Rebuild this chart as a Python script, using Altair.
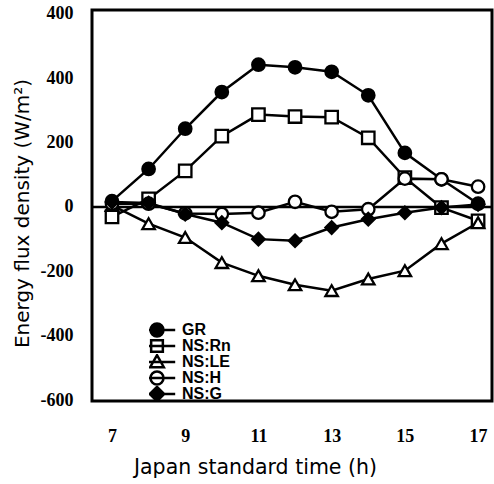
import altair as alt
import pandas as pd

hours = [7, 8, 9, 10, 11, 12, 13, 14, 15, 16, 17]
series_names = ["GR", "NS:Rn", "NS:LE", "NS:H", "NS:G"]
gr = [18, 118, 243, 357, 442, 434, 420, 347, 168, 86, 10]
ns_rn = [-31, 25, 112, 220, 287, 281, 279, 215, 91, -2, -43]
ns_le = [5, -52, -95, -173, -214, -242, -260, -224, -198, -114, -49]
ns_h = [10, 10, -20, -22, -18, 16, -15, -7, 88, 86, 63]
ns_g = [15, 12, -22, -49, -100, -105, -64, -38, -18, -2, 8]
y_ticks = [-600, -400, -200, 0, 200, 400, 600]
x_ticks = [7, 9, 11, 13, 15, 17]

plot_shapes = ["circle", "square", "triangle-up", "circle", "diamond"]
fills = ["black", "white", "white", "white", "black"]
strokes = ["black"] * 5
legend_paths = [
    "M-2.8,0H2.8M-1,0A1,1,0,1,0,1,0A1,1,0,1,0,-1,0Z",
    "M-2.8,0H2.8M-0.9,-0.9H0.9V0.9H-0.9Z",
    "M-2.8,0H2.8M0,-1.05L1.05,0.8H-1.05Z",
    "M-2.8,0H2.8M-1,0A1,1,0,1,0,1,0A1,1,0,1,0,-1,0Z",
    "M-2.8,0H2.8M0,-1.1L1.1,0L0,1.1L-1.1,0Z",
]

rows = []
for name, vals in zip(series_names, [gr, ns_rn, ns_le, ns_h, ns_g]):
    for h, v in zip(hours, vals):
        rows.append({"hour": h, "value": v, "series": name})
df = pd.DataFrame(rows)

x_enc = alt.X(
    "hour:Q",
    scale=alt.Scale(domain=[6.454, 17.38], nice=False, zero=False),
    axis=alt.Axis(
        values=x_ticks, grid=False, ticks=False, domain=False,
        labelFont="Liberation Serif", labelFontSize=18, labelFontWeight="bold",
        labelColor="black", labelPadding=26,
        title="Japan standard time (h)", titleFont="DejaVu Sans",
        titleFontSize=20.5, titleFontWeight="normal", titleColor="black",
        titleX=163, titleY=72, titleBaseline="alphabetic", titleAlign="center",
    ),
)
y_enc = alt.Y(
    "value:Q",
    scale=alt.Scale(domain=[-603, 612], nice=False, zero=False),
    axis=alt.Axis(
        values=y_ticks, grid=False, ticks=False, domain=False,
        labelFont="Liberation Serif", labelFontSize=18, labelFontWeight="bold",
        labelColor="black", labelPadding=19,
        labelExpr="datum.value == 600 ? '400' : toString(datum.value)",
        title="Energy flux  density (W/m\u00b2)", titleFont="DejaVu Sans",
        titleFontSize=20, titleFontWeight="normal", titleColor="black",
        titleAngle=270, titleX=-64, titleY=203, titleBaseline="alphabetic",
        titleAlign="center",
    ),
)

base = alt.Chart(df)

zero = alt.Chart(pd.DataFrame({"value": [0]})).mark_rule(
    color="black", strokeWidth=2.5
).encode(y=alt.Y("value:Q", scale=alt.Scale(domain=[-603, 612], nice=False, zero=False)))

lines = base.mark_line(color="black", strokeWidth=2.5).encode(
    x=x_enc, y=y_enc, detail="series:N"
)

points = base.mark_point(filled=True, stroke="black", strokeWidth=2.3, size=155, opacity=1).encode(
    x=x_enc, y=y_enc,
    shape=alt.Shape("series:N", scale=alt.Scale(domain=series_names, range=plot_shapes), legend=None),
    fill=alt.Fill("series:N", scale=alt.Scale(domain=series_names, range=fills), legend=None),
)

def make_legend():
    return alt.Legend(title=None, orient="none", legendX=57, legendY=312,
                      symbolSize=169, symbolStrokeWidth=2.5,
                      labelFont="Liberation Sans", labelFontSize=16,
                      labelFontWeight="bold", labelColor="black",
                      clipHeight=16, rowPadding=0, labelOffset=17)

legend_layer = base.transform_filter("false").mark_point(
    filled=True, strokeWidth=2.5, opacity=1
).encode(
    x=x_enc, y=y_enc,
    shape=alt.Shape("series:N", scale=alt.Scale(domain=series_names, range=legend_paths),
                    legend=make_legend()),
    fill=alt.Fill("series:N", scale=alt.Scale(domain=series_names, range=fills),
                  legend=make_legend()),
    stroke=alt.Stroke("series:N", scale=alt.Scale(domain=series_names, range=strokes),
                      legend=make_legend()),
)

chart = alt.layer(zero, lines, points, legend_layer).resolve_scale(
    shape="independent", fill="independent", stroke="independent"
).properties(
    width=400, height=391,
    padding={"left": 92, "top": 10, "right": 2, "bottom": 83},
    autosize=alt.AutoSizeParams(type="none"),
    background="white",
).configure_view(stroke="black", strokeWidth=3)

chart.save("out.html", embed_options={"renderer": "svg", "actions": False})
